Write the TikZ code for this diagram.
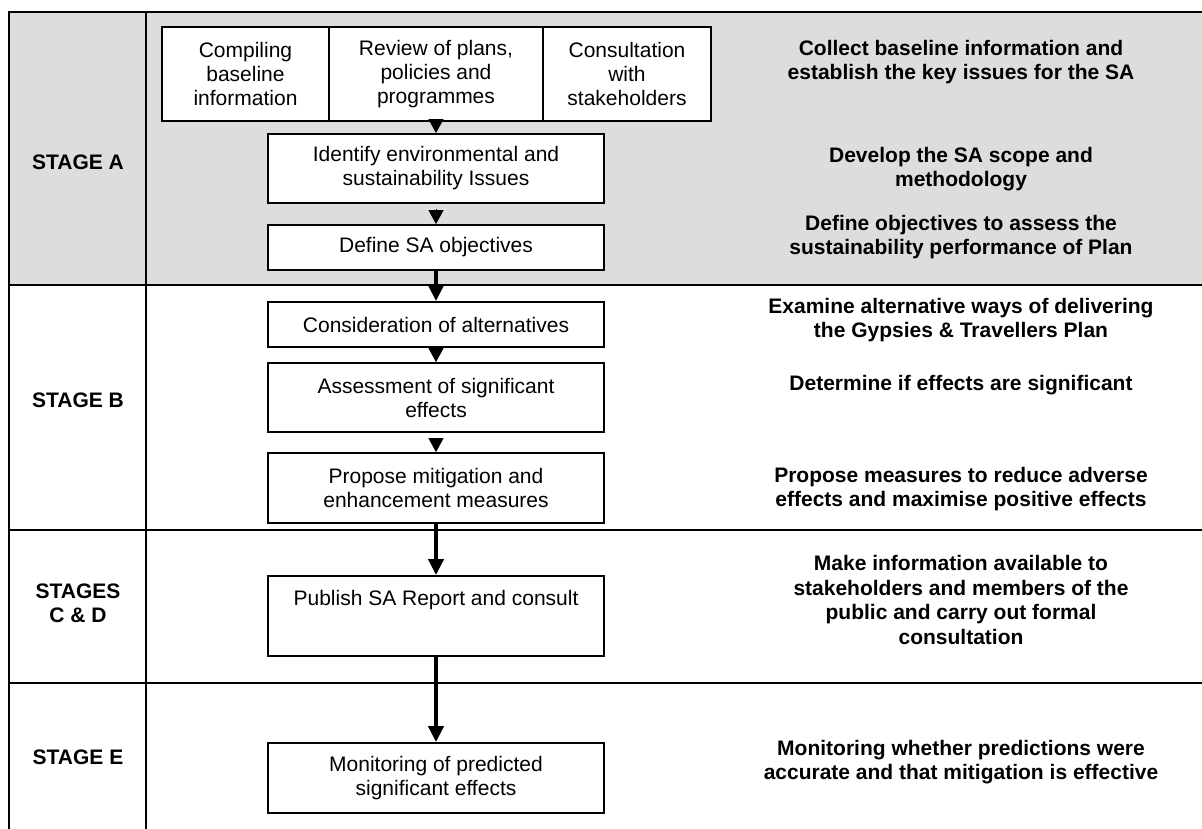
\documentclass[tikz,border=0pt]{standalone}
\usepackage{fontspec}
\setmainfont{Liberation Sans}
\usetikzlibrary{arrows.meta}
\definecolor{stagegrey}{RGB}{221,221,221}
\begin{document}
\begin{tikzpicture}[x=1pt,y=-1pt,
  every node/.style={font=\fontsize{21}{24}\selectfont},
  tbl/.style={line width=2.4pt},
  box/.style={draw, fill=white, line width=1.8pt, inner sep=0pt, align=center, minimum width=336, font=\fontsize{21}{24}\selectfont},
  topbox/.style={box, minimum height=94},
  stagelbl/.style={align=center, inner sep=0pt, font=\fontsize{21}{24}\selectfont\bfseries},
  desc/.style={align=center, inner sep=0pt, font=\fontsize{21}{24.5}\selectfont\bfseries},
  bigarr/.style={line width=4pt, -{Triangle[width=15pt,length=16pt]}},
  tiparr/.style={line width=1pt, -{Triangle[width=15pt,length=14pt]}}
]
\useasboundingbox (0,0) rectangle (1202,829);
% stage A background
\fill[stagegrey] (9,12) rectangle (1202,285);
% table lines
\draw[tbl] (9,12) -- (1202,12);
\draw[tbl] (9,285) -- (1202,285);
\draw[tbl] (9,530) -- (1202,530);
\draw[tbl] (9,683) -- (1202,683);
\draw[tbl] (9,11) -- (9,829);
\draw[tbl] (146,11) -- (146,829);

% stage labels
\node[stagelbl] (sA) at (78,162) {STAGE A};
\node[stagelbl] (sB) at (78,400) {STAGE B};
\node[stagelbl] (sC) at (78,603) {STAGES\\C \& D};
\node[stagelbl] (sE) at (78,757) {STAGE E};

% boxes
\node[topbox, minimum width=167] (c1) at (245.5,74) {Compiling\\baseline\\information};
\node[topbox, minimum width=214] (c2) at (436,74) {Review of plans,\\policies and\\programmes};
\node[topbox, minimum width=168] (c3) at (627,74) {Consultation\\with\\stakeholders};
\node[box, minimum height=69] (identify) at (436,168.5) {Identify environmental and\\sustainability Issues};
\node[box, minimum height=45] (define) at (436,247.5) {Define SA objectives};
\node[box, minimum height=45] (consider) at (436,324.5) {Consideration of alternatives};
\node[box, minimum height=69] (assess) at (436,397.5) {Assessment of significant\\effects};
\node[box, minimum height=70] (propose) at (436,488) {Propose mitigation and\\enhancement measures};
\node[box, minimum height=80] (publish) at (436,616) {};
\node[inner sep=0pt] (publishtext) at (436,600) {Publish SA Report and consult};
\node[box, minimum height=70] (monitor) at (436,778) {Monitoring of predicted\\significant effects};

% connectors
\draw[tiparr] (c2.south) -- (identify.north);
\draw[tiparr, shorten <=5pt] (identify.south) -- (define.north);
\draw[bigarr] (define.south) -- (consider.north);
\draw[tiparr] (consider.south) -- (assess.north);
\draw[tiparr, shorten <=6pt] (assess.south) -- (propose.north);
\draw[bigarr] (propose.south) -- (publish.north);
\draw[bigarr] (publish.south) -- (monitor.north);

% descriptions
\node[desc] (dA1) at (961,62) {Collect baseline information and\\establish the key issues for the SA};
\node[desc] (dA2) at (961,169) {Develop the SA scope and\\methodology};
\node[desc] (dA3) at (961,237) {Define objectives to assess the\\sustainability performance of Plan};
\node[desc] (dB1) at (961,320) {Examine alternative ways of delivering\\the Gypsies \& Travellers Plan};
\node[desc] (dB2) at (961,385) {Determine if effects are significant};
\node[desc] (dB3) at (961,489) {Propose measures to reduce adverse\\effects and maximise positive effects};
\node[desc] (dC) at (961,600) {Make information available to\\stakeholders and members of the\\public and carry out formal\\consultation};
\node[desc] (dE) at (961,762) {Monitoring whether predictions were\\accurate and that mitigation is effective};
\end{tikzpicture}
\end{document}
